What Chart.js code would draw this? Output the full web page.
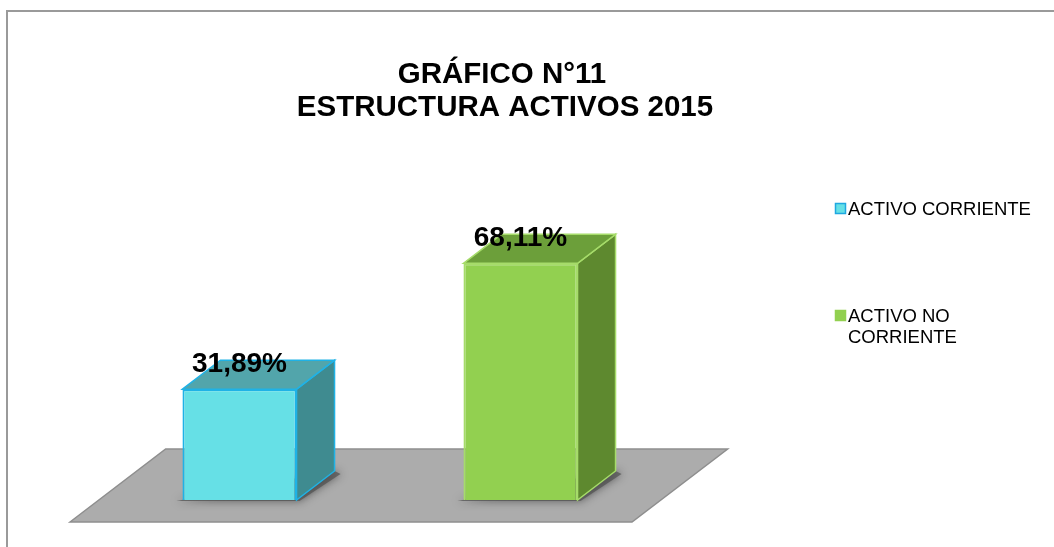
<!DOCTYPE html>
<html>
<head>
<meta charset="utf-8">
<script src="https://cdn.jsdelivr.net/npm/chart.js@4.4.1/dist/chart.umd.min.js"></script>
<style>
  html, body { margin: 0; padding: 0; background: #fff; }
  #wrap { width: 1054px; height: 547px; }
</style>
</head>
<body>
<div id="wrap"><canvas id="c" width="1054" height="547"></canvas></div>
<script>
var categories = ['ACTIVO CORRIENTE', 'ACTIVO NO CORRIENTE'];
var legendLines = [['ACTIVO CORRIENTE'], ['ACTIVO NO', 'CORRIENTE']];
var values = [31.89, 68.11];
var valueLabels = ['31,89%', '68,11%'];
var titleLines = ['GRÁFICO N°11', 'ESTRUCTURA ACTIVOS 2015'];

var frontColors = ['#66e0e6', '#92d050'];
var topColors   = ['#52a5ab', '#6c9f3a'];
var sideColors  = ['#3f8b90', '#5e892f'];
var edgeColors  = ['#1fb2e6', '#a6dc6a'];
var keyBorders  = ['#1fa8e0', '#92d050'];

var DX = 38, DY = 29;   // depth of the fake 3D

var fake3d = {
  id: 'fake3d',
  beforeDraw: function (chart) {
    var ctx = chart.ctx;
    ctx.save();
    // outer frame
    ctx.strokeStyle = '#9a9a9a';
    ctx.lineWidth = 2;
    ctx.beginPath();
    ctx.moveTo(7, 547);
    ctx.lineTo(7, 11);
    ctx.lineTo(1054, 11);
    ctx.stroke();
    // title
    ctx.fillStyle = '#000';
    ctx.font = 'bold 29.5px "Liberation Sans", Arial, sans-serif';
    ctx.textAlign = 'center';
    ctx.textBaseline = 'alphabetic';
    ctx.fillText(titleLines[0], 502, 83);
    ctx.fillText(titleLines[1], 505, 116);
    ctx.restore();
  },
  beforeDatasetsDraw: function (chart) {
    var ctx = chart.ctx, a = chart.chartArea;
    var y0 = chart.scales.y.getPixelForValue(0);
    var fy = y0 + 22, by = y0 - 51;
    var fl = a.left - 29, fr = a.right - 29;
    var k = DX / DY;
    ctx.save();
    // floor
    ctx.fillStyle = '#acacac';
    ctx.beginPath();
    ctx.moveTo(fl, fy);
    ctx.lineTo(fl + (fy - by) * k, by);
    ctx.lineTo(fr + (fy - by) * k, by);
    ctx.lineTo(fr, fy);
    ctx.closePath();
    ctx.fill();
    ctx.strokeStyle = '#8e8e8e';
    ctx.lineWidth = 1.5;
    ctx.stroke();
    // soft shadows under the bars
    var meta = chart.getDatasetMeta(0);
    meta.data.forEach(function (bar) {
      var l = bar.x - bar.width / 2, r = bar.x + bar.width / 2;
      ctx.save();
      ctx.shadowColor = 'rgba(30,30,30,0.8)';
      ctx.shadowBlur = 9;
      ctx.fillStyle = 'rgba(80,80,80,0.7)';
      ctx.beginPath();
      ctx.moveTo(l - 6, y0 + 1);
      ctx.lineTo(r + 3, y0 + 1);
      ctx.lineTo(r + DX + 6, y0 - DY + 3);
      ctx.lineTo(r + DX, y0 - DY);
      ctx.closePath();
      ctx.fill();
      ctx.restore();
    });
    ctx.restore();
  },
  afterDatasetsDraw: function (chart) {
    var ctx = chart.ctx;
    var meta = chart.getDatasetMeta(0);
    ctx.save();
    meta.data.forEach(function (bar, i) {
      var l = bar.x - bar.width / 2, r = bar.x + bar.width / 2;
      var t = bar.y, b = bar.base;
      ctx.lineWidth = 1.5;
      ctx.strokeStyle = edgeColors[i];
      // side face
      ctx.fillStyle = sideColors[i];
      ctx.beginPath();
      ctx.moveTo(r, t);
      ctx.lineTo(r + DX, t - DY);
      ctx.lineTo(r + DX, b - DY);
      ctx.lineTo(r, b);
      ctx.closePath();
      ctx.fill();
      ctx.stroke();
      // top face
      ctx.fillStyle = topColors[i];
      ctx.beginPath();
      ctx.moveTo(l, t);
      ctx.lineTo(l + DX, t - DY);
      ctx.lineTo(r + DX, t - DY);
      ctx.lineTo(r, t);
      ctx.closePath();
      ctx.fill();
      ctx.stroke();
      // value label
      ctx.fillStyle = '#000';
      ctx.font = 'bold 28px "Liberation Sans", Arial, sans-serif';
      ctx.textAlign = 'center';
      ctx.textBaseline = 'alphabetic';
      ctx.fillText(valueLabels[i], bar.x, t - 17);
    });
    ctx.restore();
  },
  afterDraw: function (chart) {
    var ctx = chart.ctx;
    var rows = [203, 310];
    ctx.save();
    ctx.font = '18.5px "Liberation Sans", Arial, sans-serif';
    ctx.textAlign = 'left';
    ctx.textBaseline = 'alphabetic';
    legendLines.forEach(function (lines, i) {
      var y = rows[i];
      ctx.fillStyle = frontColors[i];
      ctx.fillRect(835, y, 11, 11);
      ctx.strokeStyle = keyBorders[i];
      ctx.lineWidth = 1.5;
      ctx.strokeRect(835.5, y + 0.5, 10, 10);
      ctx.fillStyle = '#000';
      lines.forEach(function (txt, j) {
        ctx.fillText(txt, 848, y + 12 + j * 21);
      });
    });
    ctx.restore();
  }
};

new Chart(document.getElementById('c').getContext('2d'), {
  type: 'bar',
  data: {
    labels: categories,
    datasets: [{
      data: values,
      backgroundColor: frontColors,
      borderColor: edgeColors,
      borderWidth: 2,
      categoryPercentage: 0.406,
      barPercentage: 1
    }]
  },
  options: {
    responsive: false,
    animation: false,
    layout: { padding: { left: 99, right: 393, top: 222, bottom: 47 } },
    scales: {
      x: { display: false },
      y: { display: false, min: 0, max: 80 }
    },
    plugins: {
      legend: { display: false },
      tooltip: { enabled: false },
      title: { display: false }
    }
  },
  plugins: [fake3d]
});
</script>
</body>
</html>
